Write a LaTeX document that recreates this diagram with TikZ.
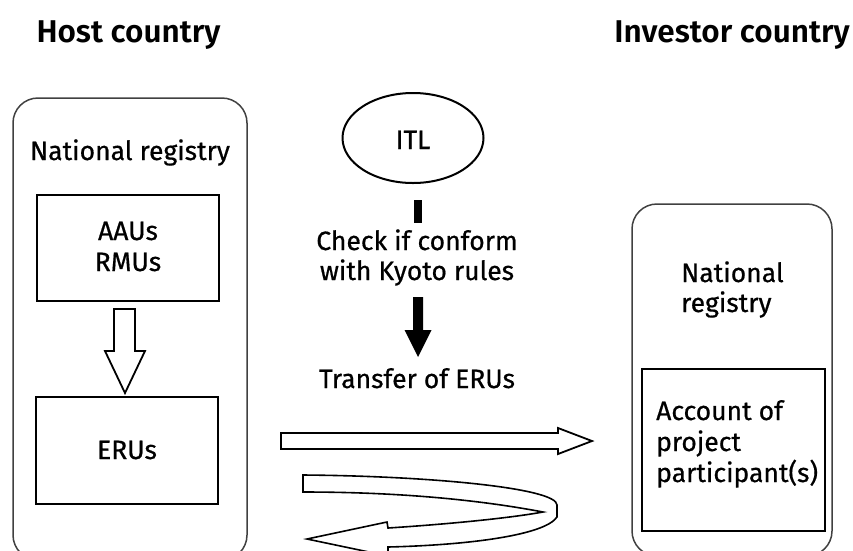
\documentclass[tikz,border=0pt]{standalone}
\usepackage{fontspec}
\setmainfont{Fira Sans}[BoldFont=Fira Sans SemiBold]
\newfontfamily\bodyfont{Fira Sans}[FakeBold=0.6]
\usetikzlibrary{shapes.geometric}
\tikzset{
  outerbox/.style={draw=black!75, line width=1.5pt, rounded corners=25pt, inner sep=0pt},
  innerbox/.style={draw=black, line width=2pt, inner sep=0pt},
  txt/.style={font=\bodyfont\fontsize{26.5}{30}\selectfont, inner sep=0pt, anchor=base},
  ltxt/.style={font=\bodyfont\fontsize{26.5}{30}\selectfont, inner sep=0pt, anchor=base west},
  title/.style={font=\bfseries\fontsize{31.5}{36}\selectfont, inner sep=0pt, anchor=base},
  hollow/.style={draw=black, fill=white, line width=1.8pt, line join=miter},
  solidarrow/.style={fill=black, draw=none}
}
\begin{document}
\begin{tikzpicture}[x=1pt,y=-1pt]
\useasboundingbox (0,0) rectangle (853,550);
\clip (0,0) rectangle (853,550);
% titles
\node[title] (host) at (128.5,42) {Host country};
\node[title] (inv) at (732,42) {Investor country};
% left registry
\node[outerbox, minimum width=234pt, minimum height=462pt] (hostreg) at (130,329) {};
\node[txt] (nrl) at (130,160) {National registry};
\node[innerbox, minimum width=182pt, minimum height=106pt] (aaus) at (128,248) {};
\node[txt] (aautxt) at (128,240) {AAUs};
\node[txt] (rmutxt) at (128,271) {RMUs};
\node[innerbox, minimum width=182pt, minimum height=107pt] (erus) at (127,450.5) {};
\node[txt] (erutxt) at (127,459) {ERUs};
% hollow down arrow
\coordinate (da) at (125,309);
\draw[hollow] (da) ++(-11,0) -- ++(0,42) -- ++(-9,0) -- (125,393) -- (145,351) -- ++(-10,0) -- ++(0,-42) -- cycle;
% ITL
\node[draw, ellipse, line width=2pt, minimum width=141pt, minimum height=90pt, inner sep=0pt] (itl) at (413,138) {};
\node[txt] (itltxt) at (413,149) {ITL};
\fill (413.5,200) rectangle (422,223);
\node[txt] (chk1) at (417,250) {Check if conform};
\node[txt] (chk2) at (417,280) {with Kyoto rules};
\fill[solidarrow] (413,297) -- (423,297) -- (423,330) -- (431.5,330) -- (418,357) -- (404.5,330) -- (413,330) -- cycle;
\node[txt] (trans) at (417,388) {Transfer of ERUs};
% right registry
\node[outerbox, minimum width=200pt, minimum height=352pt] (invreg) at (732,380) {};
\node[ltxt] (nr2a) at (681,282) {National};
\node[ltxt] (nr2b) at (681,312) {registry};
\node[innerbox, minimum width=183pt, minimum height=162pt] (acct) at (733.5,450) {};
\node[ltxt] (ac1) at (656,420) {Account of};
\node[ltxt] (ac2) at (656,451) {project};
\node[ltxt] (ac3) at (656,482) {participant(s)};
% transfer arrow
\draw[hollow] (281,433) -- (558,433) -- (558,428) -- (592,441) -- (558,454) -- (558,449) -- (281,449) -- cycle;
% return arrow (twisted ribbon)
\draw[hollow, line width=1.6pt] (303,475) .. controls (430,476) and (557,488) .. (557,505)
  -- (557,517) .. controls (545,535) and (470,545) .. (388,547)
  -- (388,556) -- (307,539) -- (387,522) -- (388,528)
  .. controls (450,524) and (510,518) .. (543,512)
  .. controls (480,500) and (400,492) .. (303,492) -- cycle;
\end{tikzpicture}
\end{document}
